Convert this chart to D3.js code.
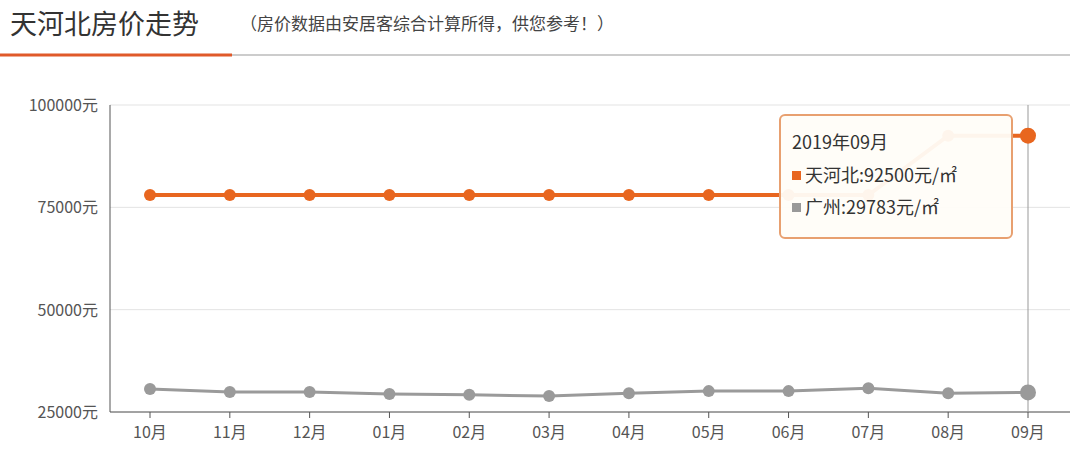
<!DOCTYPE html><html><head><meta charset="utf-8"><script src="https://cdn.jsdelivr.net/npm/d3@7"></script>
<style>body{margin:0;background:#fff;font-family:"Noto Sans CJK SC","DejaVu Sans",sans-serif}</style></head><body><svg id="c" width="1070" height="476"></svg><script>
const months=["10月","11月","12月","01月","02月","03月","04月","05月","06月","07月","08月","09月"];
const tianhebei=[78000,78000,78000,78000,78000,78000,78000,78000,78000,78000,92500,92500];
const guangzhou=[30600,29900,29900,29400,29200,28900,29600,30100,30100,30800,29600,29783];
const yTicks=[25000,50000,75000,100000];
const svg=d3.select("#c");
svg.append("text").attr("x",10).attr("y",34).attr("font-size",27).attr("fill","#333").text("天河北房价走势");
svg.append("text").attr("x",240).attr("y",30).attr("font-size",17).attr("fill","#444").text("（房价数据由安居客综合计算所得，供您参考！）");
svg.append("line").attr("x1",0).attr("x2",1070).attr("y1",55).attr("y2",55).attr("stroke","#ccc").attr("stroke-width",2);
svg.append("line").attr("x1",0).attr("x2",232).attr("y1",55).attr("y2",55).attr("stroke","#e05a2a").attr("stroke-width",3);
const x=d3.scalePoint().domain(months).range([150,1028]);
const y=d3.scaleLinear().domain([25000,100000]).range([412,105]);
const g=svg.append("g");
yTicks.forEach(t=>{g.append("line").attr("x1",110).attr("x2",1070).attr("y1",y(t)).attr("y2",y(t)).attr("stroke","#e3e3e3");
g.append("text").attr("x",98).attr("y",y(t)+6).attr("text-anchor","end").attr("font-size",16).attr("fill","#555").text(t+"元");});
g.append("line").attr("x1",110).attr("x2",110).attr("y1",105).attr("y2",412).attr("stroke","#555");
g.append("line").attr("x1",110).attr("x2",1070).attr("y1",412).attr("y2",412).attr("stroke","#555");
months.forEach(m=>{g.append("line").attr("x1",x(m)).attr("x2",x(m)).attr("y1",412).attr("y2",418).attr("stroke","#555");
g.append("text").attr("x",x(m)).attr("y",438).attr("text-anchor","middle").attr("font-size",16).attr("fill","#555").text(m);});
g.append("line").attr("x1",1028).attr("x2",1028).attr("y1",105).attr("y2",412).attr("stroke","#999");
const line=d3.line().x((d,i)=>x(months[i])).y(d=>y(d));
[[guangzhou,"#9a9a9a"],[tianhebei,"#e8661f"]].forEach(([s,c])=>{
g.append("path").attr("d",line(s)).attr("fill","none").attr("stroke",c).attr("stroke-width",s===tianhebei?4:3);
s.forEach((d,i)=>g.append("circle").attr("cx",x(months[i])).attr("cy",y(d)).attr("r",i==11?8:6).attr("fill",c));});
const tt=svg.append("g").attr("transform","translate(780,115)");
tt.append("rect").attr("width",232).attr("height",123).attr("rx",5).attr("fill","rgba(255,253,248,0.95)").attr("stroke","#e8a070").attr("stroke-width",2);
tt.append("text").attr("x",12).attr("y",34).attr("font-size",18).attr("fill","#333").text("2019年09月");
[["天河北:92500元/㎡","#e8661f"],["广州:29783元/㎡","#999"]].forEach((r,i)=>{
tt.append("rect").attr("x",12).attr("y",56+i*32).attr("width",9).attr("height",9).attr("fill",r[1]);
tt.append("text").attr("x",25).attr("y",67+i*32).attr("font-size",18).attr("fill","#333").text(r[0]);});
</script></body></html>
